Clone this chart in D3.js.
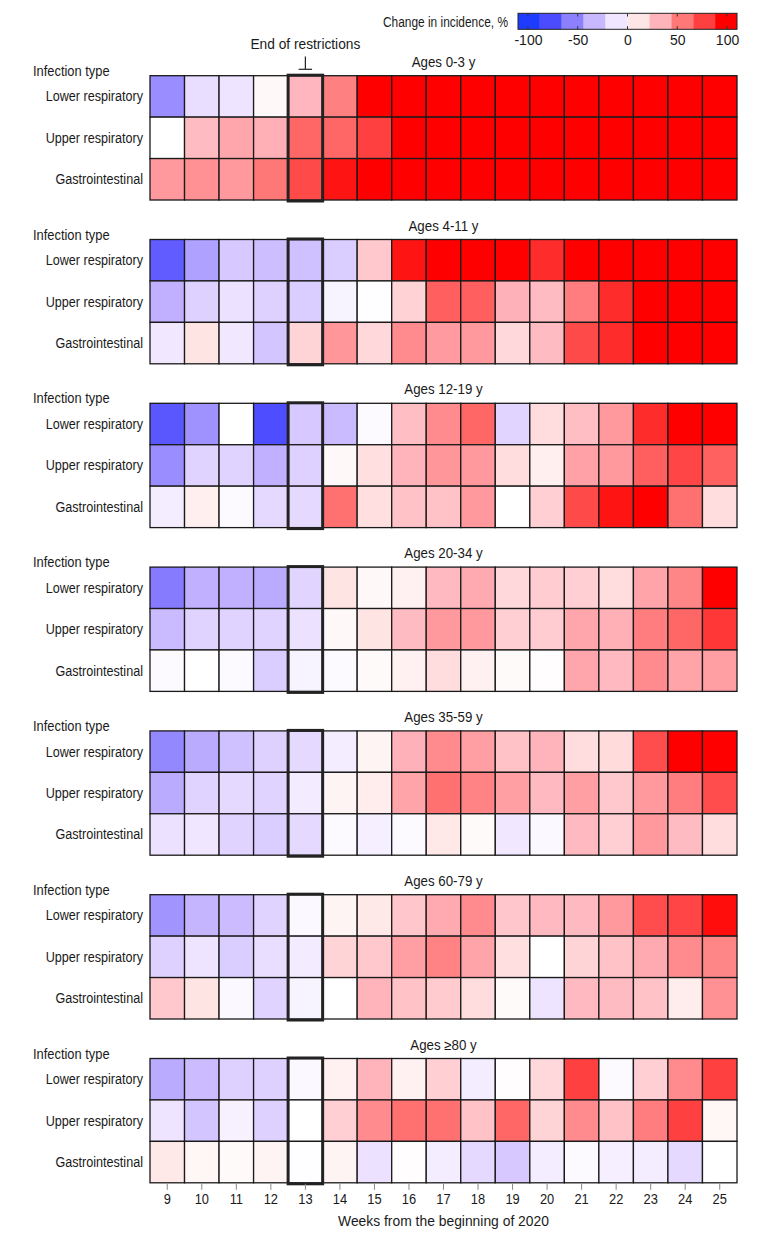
<!DOCTYPE html>
<html><head><meta charset="utf-8">
<script src="https://cdn.jsdelivr.net/npm/d3@7"></script>
<style>
body{margin:0;background:#fff;}
svg text{font-family:"Liberation Sans",Arial,sans-serif;fill:#1a1a1a;}
</style></head>
<body><svg id="c" width="780" height="1239"></svg>
<script>
const weeks = [9,10,11,12,13,14,15,16,17,18,19,20,21,22,23,24,25];
const infectionTypes = ["Lower respiratory","Upper respiratory","Gastrointestinal"];
const ageGroups = ["Ages 0-3 y","Ages 4-11 y","Ages 12-19 y","Ages 20-34 y","Ages 35-59 y","Ages 60-79 y","Ages \u226580 y"];
const restrictionWeek = 13;
const legendTicks = [-100,-50,0,50,100];

const ages0_3 = [
  [-50,-15,-12,3,32,52,110,110,110,110,110,110,110,110,110,110,110],
  [0,30,38,35,62,62,77,110,110,110,110,110,110,110,110,110,110],
  [43,46,43,55,73,92,110,110,110,110,110,110,110,110,110,110,110]
];
const ages4_11 = [
  [-70,-42,-25,-30,-29,-23,24,92,105,105,105,84,106,106,105,105,105],
  [-36,-21,-13,-21,-23,-5,-1,20,65,65,34,30,53,84,105,105,105],
  [-10,12,-10,-27,19,44,17,48,42,43,17,30,73,84,105,105,105]
];
const ages12_19 = [
  [-72,-48,0,-76,-25,-32,-2,29,48,62,-19,15,29,43,84,106,105],
  [-50,-20,-20,-36,-21,3,14,33,44,43,15,7,40,43,65,75,64],
  [-8,7,-2,-17,-17,58,14,27,27,43,0,21,73,92,106,58,15]
];
const ages20_34 = [
  [-57,-36,-36,-38,-19,12,3,6,31,37,17,22,21,15,39,50,106],
  [-32,-20,-20,-20,-13,3,12,30,43,43,21,22,38,35,53,62,80],
  [-2,0,-2,-23,-5,-2,2,6,15,6,2,1,38,31,48,39,41]
];
const ages35_59 = [
  [-52,-38,-29,-21,-17,-8,5,34,48,41,27,33,15,16,72,100,100],
  [-38,-20,-17,-20,-9,5,8,39,58,51,41,31,41,24,43,53,72],
  [-13,-11,-20,-23,-17,-2,-7,-2,10,2,-10,-3,31,21,43,30,15]
];
const ages60_79 = [
  [-47,-34,-31,-20,-3,5,10,25,37,48,25,31,31,43,72,75,95],
  [-21,-12,-23,-15,-9,19,24,41,51,39,14,0,19,27,37,48,50],
  [24,12,-3,-20,-5,0,33,27,23,15,2,-12,31,30,27,8,46]
];
const ages80 = [
  [-38,-31,-21,-21,-3,6,33,6,21,-8,1,17,77,-2,21,48,77],
  [-12,-27,-6,-21,0,21,48,58,58,27,62,19,48,27,53,77,4],
  [10,4,2,5,-1,5,-13,1,-8,-17,-25,-8,-2,-7,-8,-17,0]
];
const panelValues = [ages0_3, ages4_11, ages12_19, ages20_34, ages35_59, ages60_79, ages80];

const colorStops = [-110,-99,-77,-55,-33,-11,0,11,33,55,77,99,110];
const colorList = ["#1e3cff","#1e3cff","#4b4bff","#8c80ff","#c8b8ff","#f0e6ff","#ffffff","#ffe6e6","#ffb4bc","#ff7878","#ff4040","#ff0000","#ff0000"];
const color = d3.scaleLinear().domain(colorStops).range(colorList).clamp(true);

// horizontally condense a text element to mimic the narrow reference face
function condense(sel, f) {
  sel.each(function(){
    const w = this.getComputedTextLength();
    d3.select(this).attr("textLength", w*f).attr("lengthAdjust","spacingAndGlyphs");
  });
}

const svg = d3.select("#c");
const gridLeft = 150, gridRight = 737;
const x = d3.scaleBand().domain(weeks).range([gridLeft, gridRight]);
const panelTop0 = 75.7, panelStep = 163.8, panelH = 124.3;
const y = d3.scaleBand().domain(infectionTypes).range([0, panelH]);

panelValues.forEach((vals, pi) => {
  const top = panelTop0 + pi*panelStep;
  const g = svg.append("g").attr("transform", `translate(0,${top})`);
  const cells = [];
  vals.forEach((row, ri) => row.forEach((v, wi) => cells.push({t: infectionTypes[ri], w: weeks[wi], v})));
  g.selectAll("rect.cell").data(cells).join("rect").attr("class","cell")
    .attr("x", d => x(d.w)).attr("y", d => y(d.t))
    .attr("width", x.bandwidth()).attr("height", y.bandwidth())
    .attr("fill", d => color(d.v))
    .attr("stroke", "#1a1a1a").attr("stroke-width", 1.3);
  g.append("rect")
    .attr("x", x(restrictionWeek)).attr("y", -0.5)
    .attr("width", x.bandwidth()).attr("height", panelH + 1.5)
    .attr("fill","none").attr("stroke","#222").attr("stroke-width",3);
  g.selectAll("text.rl").data(infectionTypes).join("text").attr("class","rl")
    .attr("x", 143).attr("y", d => y(d) + y.bandwidth()/2)
    .attr("text-anchor","end").attr("dominant-baseline","central")
    .attr("font-size", 14).text(d => d).call(condense, 0.9);
  g.append("text").attr("x", 33).attr("y", -5).attr("dominant-baseline","central")
    .attr("font-size", 14).text("Infection type").call(condense, 0.92);
  g.append("text").attr("x", (gridLeft+gridRight)/2).attr("y", -14)
    .attr("text-anchor","middle").attr("dominant-baseline","central")
    .attr("font-size", 14).text(ageGroups[pi]).call(condense, 0.95);
});

// End of restrictions marker
const mx = x(restrictionWeek) + x.bandwidth()/2;
svg.append("text").attr("x", mx).attr("y", 44).attr("text-anchor","middle")
  .attr("dominant-baseline","central").attr("font-size", 14).text("End of restrictions").call(condense, 0.98);
svg.append("line").attr("x1", mx).attr("x2", mx).attr("y1", 56.5).attr("y2", 69.3).attr("stroke","#222").attr("stroke-width",1.2);
svg.append("line").attr("x1", mx-6.7).attr("x2", mx+6.7).attr("y1", 69.3).attr("y2", 69.3).attr("stroke","#222").attr("stroke-width",1.2);

// x axis
const lastBottom = panelTop0 + 6*panelStep + panelH;
const xAxis = d3.axisBottom(x).tickSize(6).tickPadding(4);
const ax = svg.append("g").attr("transform", `translate(0,${lastBottom+1})`).call(xAxis);
ax.select(".domain").remove();
ax.selectAll(".tick line").attr("stroke","#888");
ax.selectAll(".tick text").attr("font-size",14).attr("fill","#1a1a1a")
  .attr("font-family",'"Liberation Sans",Arial,sans-serif').call(condense, 0.92);
svg.append("text").attr("x",(gridLeft+gridRight)/2).attr("y",1221).attr("text-anchor","middle")
  .attr("dominant-baseline","central").attr("font-size",14).text("Weeks from the beginning of 2020").call(condense, 0.99);

// legend
const lx = d3.scaleLinear().domain([-110,110]).range([518,737]);
const binEdges = d3.range(-110, 111, 22);
const bins = binEdges.slice(0,-1).map((e,i)=>({a:e,b:binEdges[i+1]}));
const lg = svg.append("g");
lg.selectAll("rect").data(bins).join("rect")
  .attr("x", d=>lx(d.a)).attr("y",13.3).attr("width", d=>lx(d.b)-lx(d.a)).attr("height",16)
  .attr("fill", d=>color((d.a+d.b)/2));
lg.append("rect").attr("x",518).attr("y",13.3).attr("width",219).attr("height",16)
  .attr("fill","none").attr("stroke","#222").attr("stroke-width",1);
const la = lg.append("g").attr("transform","translate(0,29.3)")
  .call(d3.axisBottom(lx).tickValues(legendTicks).tickSize(0).tickPadding(6).tickFormat(d=>d<0?"-"+Math.abs(d):d));
la.select(".domain").remove();
la.selectAll(".tick text").attr("font-size",14).attr("fill","#1a1a1a")
  .attr("font-family",'"Liberation Sans",Arial,sans-serif');
lg.selectAll("line.tt").data(legendTicks).join("line").attr("class","tt")
  .attr("x1",d=>lx(d)).attr("x2",d=>lx(d)).attr("y1",13.3).attr("y2",16.5).attr("stroke","#333");
lg.selectAll("line.tb").data(legendTicks).join("line").attr("class","tb")
  .attr("x1",d=>lx(d)).attr("x2",d=>lx(d)).attr("y1",26.1).attr("y2",29.3).attr("stroke","#333");
lg.append("text").attr("x",508).attr("y",21.5).attr("text-anchor","end")
  .attr("dominant-baseline","central").attr("font-size",14).text("Change in incidence, %").call(condense, 0.85);
</script></body></html>
